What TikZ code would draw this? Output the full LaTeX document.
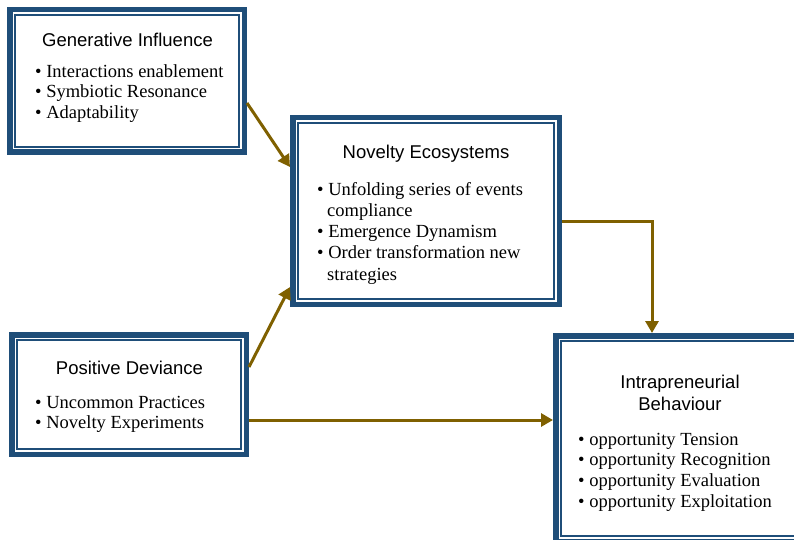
\documentclass[tikz,border=0pt]{standalone}
\usepackage{fontspec}
\setmainfont{Liberation Serif}
\setsansfont{Liberation Sans}
\usetikzlibrary{arrows.meta}
\definecolor{frameblue}{HTML}{1F4E79}
\definecolor{arrowgold}{HTML}{7F6000}
\tikzset{
  frame/.style={rectangle, draw=frameblue, line width=5.5pt, fill=white, inner sep=0pt,
    path picture={\draw[frameblue, line width=1.5pt]
      ([shift={(5.3pt,-5.3pt)}]path picture bounding box.north west) rectangle
      ([shift={(-5.3pt,5.3pt)}]path picture bounding box.south east);}},
  title/.style={font=\sffamily\fontsize{18.5}{22}\selectfont, inner sep=0pt, anchor=base},
  list/.style={align=left, inner sep=0pt, anchor=north west},
  arr/.style={draw=arrowgold, line width=3pt, -{Triangle[length=12pt,width=13pt]}}
}
\begin{document}
\begin{tikzpicture}[x=1pt,y=-1pt]
\useasboundingbox (0,0) rectangle (794,540);
\clip (0,0) rectangle (794,540);
% boxes
\node[frame, minimum width=234.5pt, minimum height=142.5pt] (b1) at (127,81) {};
\node[frame, minimum width=266.5pt, minimum height=186.5pt] (b2) at (426,211) {};
\node[frame, minimum width=234.5pt, minimum height=119.5pt] (b3) at (129,394.5) {};
\node[frame, minimum width=248.5pt, minimum height=205.5pt] (b4) at (680,438.5) {};
% titles
\node[title] (t1) at (127.5,47) {Generative Influence};
\node[title] (t2) at (426,158) {Novelty Ecosystems};
\node[title] (t3) at (129.5,374) {Positive Deviance};
\node[title, align=center, anchor=north] (t4) at (680,372.6) {\strut Intrapreneurial\\Behaviour};
% lists
\node[list, font=\fontsize{18.5}{20.5}\selectfont] (l1) at (35,62.65)
  {\strut• Interactions enablement\\• Symbiotic Resonance\\• Adaptability};
\node[list, font=\fontsize{18.5}{21.2}\selectfont] (l2) at (317,180.16)
  {\strut• Unfolding series of events\\\hspace*{10pt}compliance\\• Emergence Dynamism\\• Order transformation new\\\hspace*{10pt}strategies};
\node[list, font=\fontsize{18.5}{20}\selectfont] (l3) at (35,394)
  {\strut• Uncommon Practices\\• Novelty Experiments};
\node[list, font=\fontsize{18.5}{20.7}\selectfont] (l4) at (578,430.5)
  {\strut• opportunity Tension\\• opportunity Recognition\\• opportunity Evaluation\\• opportunity Exploitation};
% connectors
\draw[arr] ([yshift=-22pt]b1.east) -- ([yshift=44pt]b2.west);
\draw[arr] ([yshift=27.5pt]b3.east) -- ([yshift=-76pt]b2.west);
\draw[arr] ([yshift=-10pt]b2.east) -| ([xshift=-28pt]b4.north);
\coordinate (p4) at ([yshift=-25.5pt]b3.east);
\draw[arr] (p4) -- (p4 -| b4.west);
\end{tikzpicture}
\end{document}
